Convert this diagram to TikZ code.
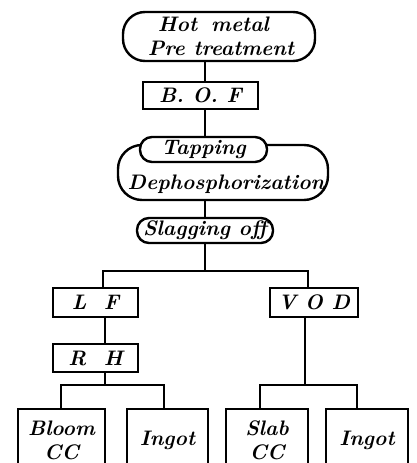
\documentclass[tikz,border=0pt]{standalone}
\usepackage{fontspec}
\newcommand\hwfont{\fontsize{21}{24}\selectfont\bfseries\itshape\addfontfeature{LetterSpace=5}}
\begin{document}
\begin{tikzpicture}[x=1pt,y=-1pt,
  ln/.style={line width=2.4pt},
  sq/.style={draw, line width=2.4pt, inner sep=0pt, font=\hwfont, align=center},
  rd/.style={sq, rounded corners=#1},
  rd/.default=12pt]
\useasboundingbox (0,0) rectangle (417,463);
% top part
\node[rd=22pt, minimum width=192pt, minimum height=49pt, align=left] (hot) at (219,36.5)
  {\hspace{14pt}Hot\hspace{14pt}metal\\\hspace{4pt}Pre\ treatment};
\node[sq, minimum width=115pt, minimum height=27pt] (bof) at (200.5,95.5) {B. O. F};
\node[rd=24pt, minimum width=210pt, minimum height=55pt] (deph) at (223,172.5) {};
\node[font=\hwfont, inner sep=0pt] (dephtxt) at (226,184) {Dephosphorization};
\node[rd=12pt, fill=white, minimum width=127pt, minimum height=25pt] (tap) at (203.5,149.5) {Tapping};
\node[rd=12pt, minimum width=136pt, minimum height=25pt, font=\hwfont\addfontfeature{LetterSpace=0}] (slag) at (205,230.5) {Slagging off};
% second level
\node[sq, minimum width=85pt, minimum height=29pt] (lf) at (95.5,302.5) {L\ \ F};
\node[sq, minimum width=85pt, minimum height=28pt] (rh) at (95.5,358) {R\ \ H};
\node[sq, minimum width=88pt, minimum height=29pt] (vod) at (314,302.5) {V\ O\ D};
% bottom boxes (run past the lower edge)
\node[sq, minimum width=87pt, minimum height=62pt] (bloom) at (61.5,440) {Bloom\\CC};
\node[sq, minimum width=81pt, minimum height=62pt] (ing1) at (167.5,440) {Ingot};
\node[sq, minimum width=82pt, minimum height=62pt] (slab) at (267,440) {Slab\\CC};
\node[sq, minimum width=82pt, minimum height=62pt] (ing2) at (367,440) {Ingot};
% junctions
\coordinate (c1) at (205,0);
\coordinate (j1) at (205,271);
\coordinate (jl) at (103,271);
\coordinate (jr) at (308,271);
\coordinate (k1) at (105,385);
\coordinate (k1l) at (61,385);
\coordinate (k1r) at (164,385);
\coordinate (k2) at (305,385);
\coordinate (k2l) at (260,385);
\coordinate (k2r) at (357,385);
% connectors
\draw[ln] (hot.south -| c1) -- (bof.north -| c1);
\draw[ln] (bof.south -| c1) -- (tap.north -| c1);
\draw[ln] (deph.south -| c1) -- (slag.north -| c1);
\draw[ln] (slag.south -| c1) -- (j1);
\draw[ln] (lf.north -| jl) -- (jl) -- (jr) -- (vod.north -| jr);
\draw[ln] (lf.south -| k1) -- (rh.north -| k1);
\draw[ln] (rh.south -| k1) -- (k1);
\draw[ln] (bloom.north -| k1l) -- (k1l) -- (k1r) -- (ing1.north -| k1r);
\draw[ln] (vod.south -| k2) -- (k2);
\draw[ln] (slab.north -| k2l) -- (k2l) -- (k2r) -- (ing2.north -| k2r);
\end{tikzpicture}
\end{document}
